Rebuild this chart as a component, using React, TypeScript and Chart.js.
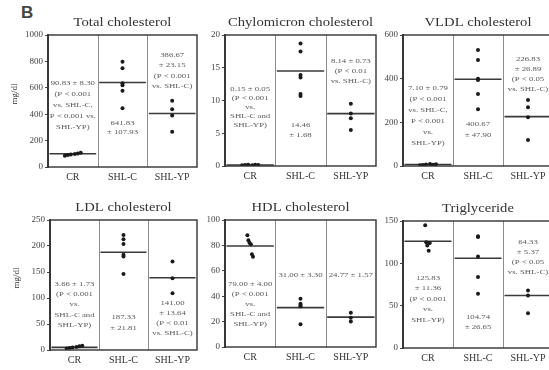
import React, { useEffect, useRef } from "react";
import { Chart, registerables } from "chart.js";

Chart.register(...registerables);

// ---------- data ----------
const categories = ["CR", "SHL-C", "SHL-YP"];

const totalCR = [86, 90, 94, 98, 102, 108];
const totalSHLC = [798, 748, 634, 620, 578, 445];
const totalSHLYP = [502, 437, 390, 267];
const totalMeans = [100, 640, 405];
const totalTicks = { max: 1000, step: 200 };

const chyloCR = [0.1, 0.15, 0.2, 0.1, 0.2, 0.15];
const chyloSHLC = [18.7, 17.5, 13.9, 13.5, 11.0, 10.7];
const chyloSHLYP = [9.5, 8.0, 7.3, 5.5];
const chyloMeans = [0.15, 14.5, 8.0];
const chyloTicks = { max: 20, step: 5 };

const vldlCR = [3, 5, 7, 9, 6, 8];
const vldlSHLC = [531, 485, 400, 394, 330, 260];
const vldlSHLYP = [302, 269, 223, 119];
const vldlMeans = [7, 397, 226];
const vldlTicks = { max: 600, step: 200 };

const ldlCR = [3, 4, 5, 6, 7, 8];
const ldlSHLC = [221, 213, 204, 183, 180, 146];
const ldlSHLYP = [170, 138, 109];
const ldlMeans = [5, 188, 139];
const ldlTicks = { max: 250, step: 50 };

const hdlCR = [88, 84, 82, 81, 73, 71];
const hdlSHLC = [38, 34, 33, 32, 18];
const hdlSHLYP = [27, 23, 20];
const hdlMeans = [79.5, 31, 23.5];
const hdlTicks = { max: 100, step: 20 };

const tgCR = [145, 125, 121, 115, 124];
const tgSHLC = [132, 131, 108, 84, 64];
const tgSHLYP = [68, 62, 41];
const tgMeans = [126, 106, 62];
const tgTicks = { max: 150, step: 50 };

const totalNotes = [
  ["90.83 ± 8.30", "(P < 0.001", "vs. SHL-C,", "P < 0.001 vs.", "SHL-YP)"],
  ["641.83", "± 107.93"],
  ["386.67", "± 23.15", "(P < 0.001", "vs. SHL-C)"],
];
const chyloNotes = [
  ["0.15 ± 0.05", "(P < 0.001", "vs.", "SHL-C and", "SHL-YP)"],
  ["14.46", "± 1.68"],
  ["8.14 ± 0.73", "(P < 0.01", "vs. SHL-C)"],
];
const vldlNotes = [
  ["7.10 ± 0.79", "(P < 0.001", "vs. SHL-C,", "P < 0.001", "vs.", "SHL-YP)"],
  ["400.67", "± 47.90"],
  ["226.83", "± 26.89", "(P < 0.05", "vs. SHL-C)"],
];
const ldlNotes = [
  ["3.66 ± 1.73", "(P < 0.001", "vs.", "SHL-C and", "SHL-YP)"],
  ["187.33", "± 21.81"],
  ["141.00", "± 13.64", "(P < 0.01", "vs. SHL-C)"],
];
const hdlNotes = [
  ["79.00 ± 4.00", "(P < 0.001", "vs.", "SHL-C and", "SHL-YP)"],
  ["31.00 ± 3.30"],
  ["24.77 ± 1.57"],
];
const tgNotes = [
  ["125.83", "± 11.36", "(P < 0.001", "vs.", "SHL-YP)"],
  ["104.74", "± 26.65"],
  ["64.33", "± 5.37", "(P < 0.05", "vs. SHL-C)"],
];

// ---------- layout ----------
const SERIF = '"Liberation Serif", "DejaVu Serif", serif';
const PAD_L = 45;
const PAD_T = 30;
const PAD_R = 4;
const PAD_B = 22;

type NotePos = { top: number; lh: number };
type Panel = {
  title: string;
  left: number;
  top: number;
  w: number;
  h: number;
  ticks: { max: number; step: number };
  groups: number[][];
  means: number[];
  notes: string[][];
  notePos: NotePos[];
  yLabel: boolean;
  spread: number;
};

const panels: Panel[] = [
  {
    title: "Total cholesterol", left: 48, top: 35, w: 149, h: 132, ticks: totalTicks,
    groups: [totalCR, totalSHLC, totalSHLYP], means: totalMeans, notes: totalNotes,
    notePos: [{ top: 48, lh: 11 }, { top: 88, lh: 9 }, { top: 20, lh: 10.5 }], yLabel: true, spread: 1,
  },
  {
    title: "Chylomicron cholesterol", left: 225, top: 35, w: 151, h: 131, ticks: chyloTicks,
    groups: [chyloCR, chyloSHLC, chyloSHLYP], means: chyloMeans, notes: chyloNotes,
    notePos: [{ top: 54, lh: 9 }, { top: 90, lh: 10 }, { top: 26, lh: 10 }], yLabel: false, spread: 1,
  },
  {
    title: "VLDL cholesterol", left: 403, top: 35, w: 150, h: 131, ticks: vldlTicks,
    groups: [vldlCR, vldlSHLC, vldlSHLYP], means: vldlMeans, notes: vldlNotes,
    notePos: [{ top: 53, lh: 11 }, { top: 89, lh: 11 }, { top: 24, lh: 10 }], yLabel: false, spread: 1,
  },
  {
    title: "LDL cholesterol", left: 50, top: 220, w: 147, h: 130, ticks: ldlTicks,
    groups: [ldlCR, ldlSHLC, ldlSHLYP], means: ldlMeans, notes: ldlNotes,
    notePos: [{ top: 64, lh: 10.3 }, { top: 97, lh: 11 }, { top: 83, lh: 10 }], yLabel: true, spread: 1,
  },
  {
    title: "HDL cholesterol", left: 225, top: 220, w: 151, h: 127, ticks: hdlTicks,
    groups: [hdlCR, hdlSHLC, hdlSHLYP], means: hdlMeans, notes: hdlNotes,
    notePos: [{ top: 64, lh: 10 }, { top: 55, lh: 10 }, { top: 55, lh: 10 }], yLabel: false, spread: 0.35,
  },
  {
    title: "Triglyceride", left: 403, top: 221, w: 150, h: 127, ticks: tgTicks,
    groups: [tgCR, tgSHLC, tgSHLYP], means: tgMeans, notes: tgNotes,
    notePos: [{ top: 57, lh: 10.5 }, { top: 96, lh: 10 }, { top: 21, lh: 10.2 }], yLabel: false, spread: 0.35,
  },
];

const crOffsets = [-0.16, -0.1, -0.04, 0.04, 0.1, 0.16];

function stretchText(ctx: CanvasRenderingContext2D, t: string, x: number, y: number, sx: number) {
  ctx.save();
  ctx.translate(x, y);
  ctx.scale(sx, 1);
  ctx.fillText(t, 0, 0);
  ctx.restore();
}

function PanelChart({ p }: { p: Panel }) {
  const ref = useRef<HTMLCanvasElement>(null);
  const cw = p.w + PAD_L + PAD_R;
  const ch = p.h + PAD_T + PAD_B;

  useEffect(() => {
    if (!ref.current) return;
    const pointSets = p.groups.map((vals, c) => ({
      data: vals.map((v, i) => ({
        x: c + 0.5 + (c === 0 ? crOffsets[i % crOffsets.length] * p.spread : 0),
        y: v,
      })),
      showLine: false,
      pointRadius: 2,
      pointHoverRadius: 2,
      backgroundColor: "#1a1a1a",
      borderColor: "#1a1a1a",
      borderWidth: 0,
    }));
    const meanSets = p.means.map((m, c) => ({
      data: [
        { x: c + 0.03, y: m },
        { x: c + 0.97, y: m },
      ],
      showLine: true,
      pointRadius: 0,
      borderColor: "#3a3a3a",
      borderWidth: 1.6,
    }));

    const decor = {
      id: "panelDecor",
      beforeDatasetsDraw(chart: any) {
        const { ctx, chartArea: a, scales } = chart;
        const xs = scales.x;
        ctx.save();
        ctx.strokeStyle = "#8c8c8c";
        ctx.lineWidth = 1;
        [1, 2].forEach((v) => {
          const x = Math.round(xs.getPixelForValue(v)) + 0.5;
          ctx.beginPath();
          ctx.moveTo(x, a.top);
          ctx.lineTo(x, a.bottom);
          ctx.stroke();
        });
        ctx.fillStyle = "#5a5a5a";
        ctx.font = `7px ${SERIF}`;
        ctx.textAlign = "center";
        ctx.textBaseline = "middle";
        p.notes.forEach((lines, c) => {
          const pos = p.notePos[c];
          const cx = xs.getPixelForValue(c + 0.5);
          lines.forEach((t, i) => stretchText(ctx, t, cx, a.top + pos.top + i * pos.lh, 1.25));
        });
        ctx.restore();
      },
      afterDraw(chart: any) {
        const { ctx, chartArea: a, scales } = chart;
        const xs = scales.x;
        ctx.save();
        ctx.strokeStyle = "#333";
        ctx.lineWidth = 1.4;
        ctx.strokeRect(a.left, a.top, a.right - a.left, a.bottom - a.top);
        ctx.fillStyle = "#333";
        ctx.textAlign = "center";
        ctx.textBaseline = "middle";
        ctx.font = `12px ${SERIF}`;
        stretchText(ctx, p.title, (a.left + a.right) / 2, a.top - 12, 1.22);
        ctx.font = `10px ${SERIF}`;
        categories.forEach((c, i) => {
          ctx.fillText(c, xs.getPixelForValue(i + 0.5), a.bottom + 10);
        });
        if (p.yLabel) {
          ctx.save();
          ctx.translate(a.left - 33, (a.top + a.bottom) / 2 - 7);
          ctx.rotate(-Math.PI / 2);
          ctx.font = `9px ${SERIF}`;
          ctx.fillText("mg/dl", 0, 0);
          ctx.restore();
        }
        ctx.restore();
      },
    };

    const chart = new Chart(ref.current, {
      type: "scatter",
      data: { datasets: [...pointSets, ...meanSets] as any },
      options: {
        responsive: false,
        animation: false,
        devicePixelRatio: 1,
        layout: { padding: { left: 0, top: PAD_T, right: PAD_R, bottom: PAD_B } },
        plugins: {
          legend: { display: false },
          tooltip: { enabled: false },
        },
        scales: {
          x: { type: "linear", display: false, min: 0, max: 3 },
          y: {
            min: 0,
            max: p.ticks.max,
            ticks: {
              stepSize: p.ticks.step,
              font: { family: SERIF, size: 9 },
              color: "#444",
              padding: 2,
              callback: (v: any) => String(v),
            },
            grid: {
              drawOnChartArea: false,
              drawTicks: true,
              tickLength: 3,
              color: "#444",
            },
            border: { display: true, color: "#444", width: 2 },
            afterFit: (s: any) => {
              s.width = PAD_L;
            },
          },
        },
      } as any,
      plugins: [decor],
    });
    return () => chart.destroy();
  }, []);

  return (
    <canvas
      ref={ref}
      width={cw}
      height={ch}
      style={{
        position: "absolute",
        left: p.left - PAD_L,
        top: p.top - PAD_T,
        width: cw,
        height: ch,
      }}
    />
  );
}

export default function App() {
  return (
    <div
      style={{
        position: "fixed",
        left: 0,
        top: 0,
        width: 549,
        height: 370,
        overflow: "hidden",
        background: "#fff",
      }}
    >
      <div
        style={{
          position: "absolute",
          left: 21,
          top: 3,
          font: 'bold 17px "Liberation Sans", Arial, sans-serif',
          color: "#444",
        }}
      >
        B
      </div>
      {panels.map((p, i) => (
        <PanelChart key={i} p={p} />
      ))}
    </div>
  );
}
